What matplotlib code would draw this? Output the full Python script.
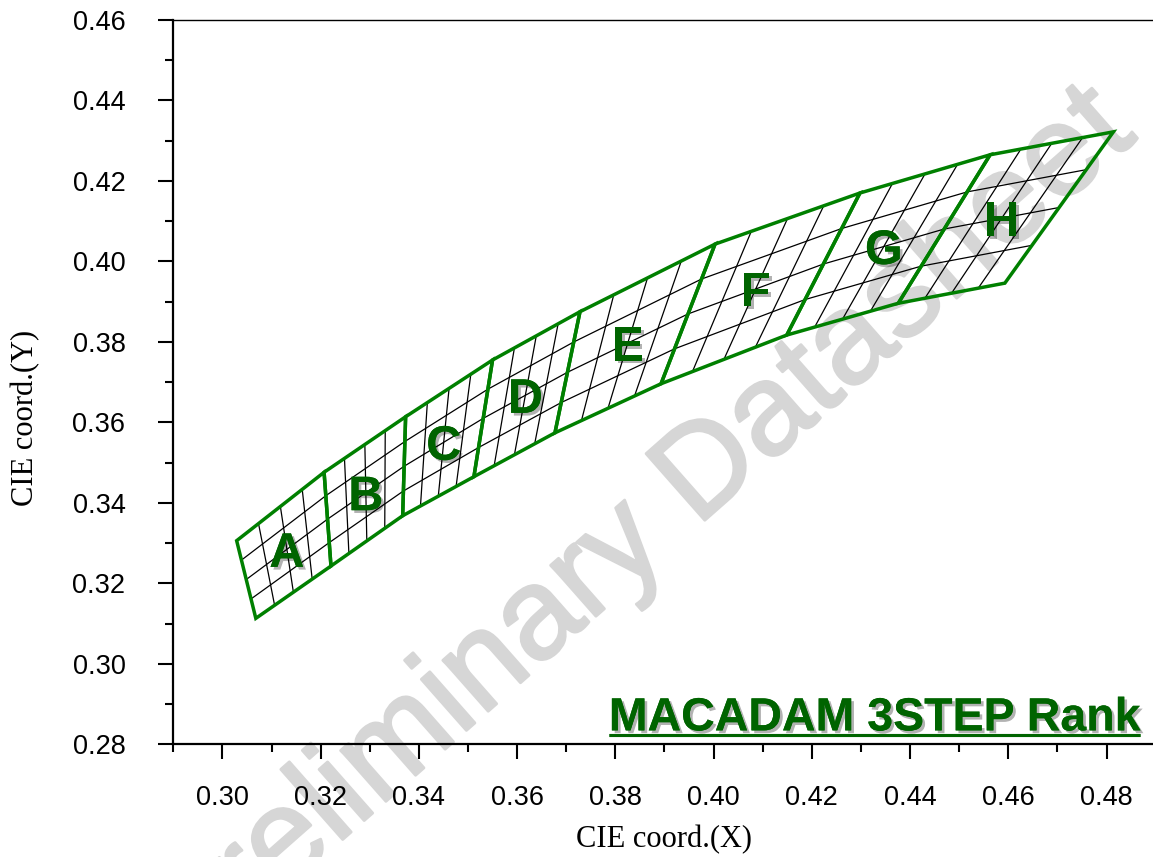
import numpy as np
import matplotlib
matplotlib.use("Agg")
import matplotlib.pyplot as plt
from matplotlib import patheffects as pe
from matplotlib.patches import Polygon
from matplotlib.ticker import MultipleLocator, FormatStrFormatter

# rank names and the CIE points of the boundary lines between the ranks
ranks = ['A', 'B', 'C', 'D', 'E', 'F', 'G', 'H']
top_x = [0.3029, 0.3207, 0.3373, 0.3550, 0.3728, 0.4003, 0.4298, 0.4563, 0.4814]
top_y = [0.3306, 0.3476, 0.3614, 0.3755, 0.3875, 0.4043, 0.4170, 0.4265, 0.4322]
bot_x = [0.3068, 0.3221, 0.3367, 0.3512, 0.3677, 0.3893, 0.4149, 0.4376, 0.4593]
bot_y = [0.3113, 0.3243, 0.3368, 0.3465, 0.3574, 0.3696, 0.3817, 0.3896, 0.3946]
n_sub = 4  # each rank split in 4 x 4 sub bins

x_ticks = [0.30, 0.32, 0.34, 0.36, 0.38, 0.40, 0.42, 0.44, 0.46, 0.48]
y_ticks = [0.28, 0.30, 0.32, 0.34, 0.36, 0.38, 0.40, 0.42, 0.44, 0.46]

EDGE = '#008000'
DARK = '#006400'

plt.rcParams['font.family'] = ['Liberation Sans', 'DejaVu Sans']

fig = plt.figure(figsize=(11.53, 8.57), dpi=100)
fig.patch.set_facecolor('white')
ax = fig.add_axes([0.1503, 0.1315, 0.8520, 0.8452])
ax.patch.set_alpha(0)

# watermark under everything
wm_col = '#d6d6d6'
fig.text(0.5742, 0.3489, 'Preliminary Datasheet', rotation=41.4, rotation_mode='anchor',
         ha='center', va='baseline', fontsize=93, color=wm_col, zorder=-1,
         path_effects=[pe.withStroke(linewidth=2, foreground=wm_col, joinstyle='round',
                                     capstyle='round')])

shadow = [pe.withSimplePatchShadow(offset=(2, -2), shadow_rgbFace='black', alpha=0.3),
          pe.Normal()]

for i, name in enumerate(ranks):
    tl = np.array([top_x[i], top_y[i]])
    tr = np.array([top_x[i + 1], top_y[i + 1]])
    bl = np.array([bot_x[i], bot_y[i]])
    br = np.array([bot_x[i + 1], bot_y[i + 1]])
    # inner grid lines
    for k in range(1, n_sub):
        s = k / n_sub
        p0 = tl + (tr - tl) * s
        p1 = bl + (br - bl) * s
        ax.plot([p0[0], p1[0]], [p0[1], p1[1]], color='black', lw=0.9, zorder=2)
        q0 = tl + (bl - tl) * s
        q1 = tr + (br - tr) * s
        ax.plot([q0[0], q1[0]], [q0[1], q1[1]], color='black', lw=0.9, zorder=2)
    ax.add_patch(Polygon([tl, tr, br, bl], closed=True, fill=False, edgecolor=EDGE,
                         lw=2.5, joinstyle='miter', zorder=3))
    cx = (tl[0] + tr[0] + bl[0] + br[0]) / 4
    cy = (tl[1] + tr[1] + bl[1] + br[1]) / 4
    ax.text(cx, cy, name, ha='center', va='center_baseline', fontsize=35,
            fontweight='bold', color=DARK, zorder=4, path_effects=shadow)

ax.set_xlim(0.29, 0.49)
ax.set_ylim(0.28, 0.46)
ax.set_xticks(x_ticks)
ax.set_yticks(y_ticks)
ax.xaxis.set_minor_locator(MultipleLocator(0.01))
ax.yaxis.set_minor_locator(MultipleLocator(0.01))
ax.xaxis.set_major_formatter(FormatStrFormatter('%.2f'))
ax.yaxis.set_major_formatter(FormatStrFormatter('%.2f'))

ax.spines['right'].set_visible(False)
ax.spines['top'].set_linewidth(1.0)
ax.spines['left'].set_linewidth(1.6)
ax.spines['bottom'].set_linewidth(1.6)
ax.tick_params(which='both', direction='out', width=1.5, top=False, right=False)
ax.tick_params(which='major', length=10.5, labelsize=19.5)
ax.tick_params(which='minor', length=5.5)
ax.tick_params(axis='x', which='major', pad=19)
ax.tick_params(axis='y', which='major', pad=24)

ax.set_xlabel('CIE coord.(X)', fontsize=22, family='Liberation Serif')
ax.set_ylabel('CIE coord.(Y)', fontsize=22, family='Liberation Serif')
ax.xaxis.set_label_coords(0.5, -0.112)
ax.yaxis.set_label_coords(-0.1357, 0.45)

title = ax.text(0.9841, 0.0192, 'MACADAM 3STEP Rank', transform=ax.transAxes,
                ha='right', va='baseline', fontsize=33.5, fontweight='bold',
                color=DARK, zorder=5, path_effects=shadow)

# underline under the rank title
fig.canvas.draw()
bb = title.get_window_extent().transformed(ax.transAxes.inverted())
ax.plot([bb.x0, bb.x1], [0.0133, 0.0133], transform=ax.transAxes, color=DARK,
        lw=2.2, solid_capstyle='butt', zorder=5, clip_on=False, path_effects=shadow)

fig.savefig('out.png', dpi=100)
